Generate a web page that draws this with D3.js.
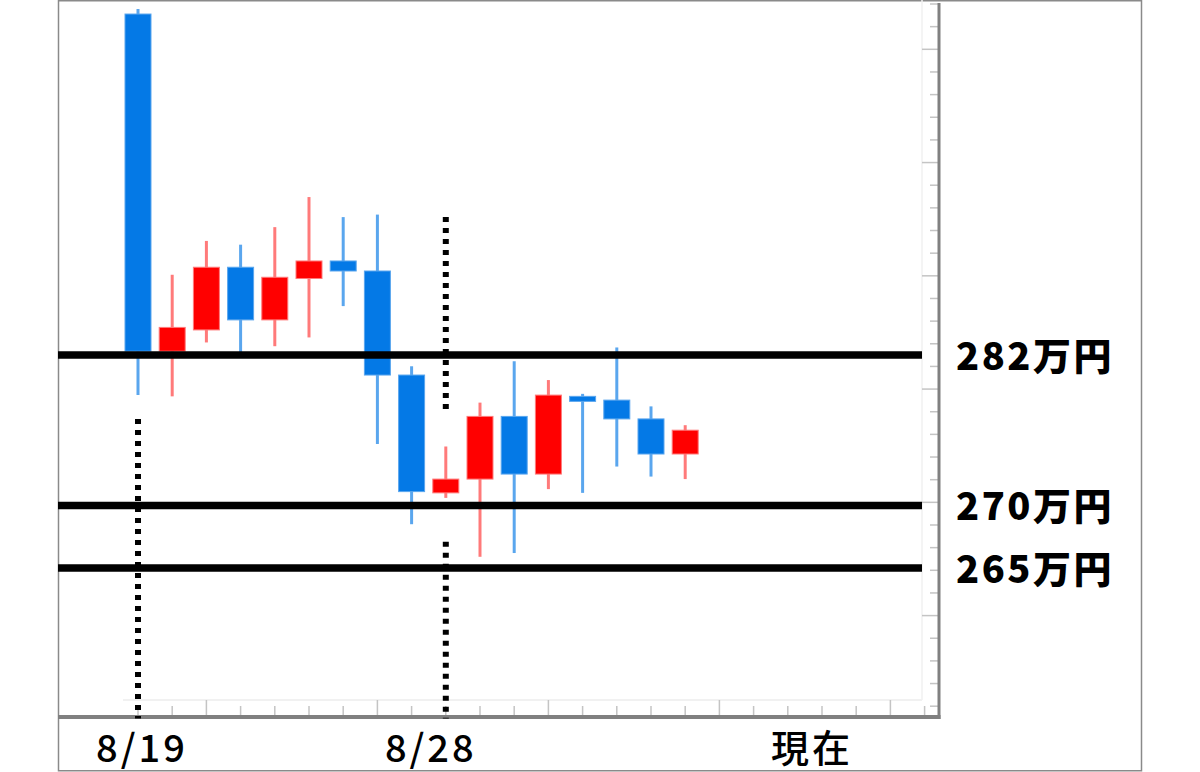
<!DOCTYPE html>
<html>
<head>
<meta charset="utf-8">
<script src="https://cdn.jsdelivr.net/npm/d3@7"></script>
<style>
    body { margin: 0; background: #fff; }
    text { font-family: "Noto Sans CJK JP", "Noto Sans", sans-serif; }
</style>
</head>
<body>
<div id="wrapper"></div>
<script>
// ローソク足 (万円) 8/19 から
const candleOpen  = [309.2, 282.3, 284.0, 289.0, 284.8, 288.1, 289.5, 288.7, 280.4, 271.0, 272.1, 277.1, 272.5, 278.7, 278.4, 276.9, 274.1]
const candleHigh  = [309.6, 288.4, 291.1, 290.8, 292.2, 294.6, 293.0, 293.2, 281.1, 274.7, 278.2, 281.5, 280.0, 278.9, 282.6, 277.9, 276.4]
const candleLow   = [278.8, 278.7, 283.0, 282.1, 282.7, 283.4, 285.9, 274.9, 268.5, 270.6, 265.9, 266.2, 271.3, 271.0, 273.1, 272.3, 272.1]
const candleClose = [282.3, 284.2, 289.0, 284.8, 288.2, 289.5, 288.7, 280.4, 271.1, 272.1, 277.1, 272.5, 278.8, 278.3, 276.9, 274.1, 276.0]

// 水平線
const levels = [282, 270, 265]
const levelLabels = ['282万円', '270万円', '265万円']

// 縦の点線 (足の位置, 価格の区間)
const markerIndex = [0, 9, 9]
const markerFrom = [276.9, 293.0, 267.1]
const markerTo = [253, 277.5, 253]

// 横軸ラベル
const xLabels = ['8/19', '8/28', '現在']
const xLabelIndex = [0, 9, 20]

const tickCount = 24
const yTickCount = 32

function drawChart() {

    const upColor = '#ff0000'
    const upWick = '#ff7a7a'
    const downColor = '#0479e6'
    const downWick = '#5aa6ee'
    const axisColor = '#808080'

    const width = 1200
    const height = 772

    let dims = {
        left: 58,
        plotRight: 922,
        axisRight: 939,
        plotBottom: 700,
        axisBottom: 717,
        frameRight: 1141,
        frameBottom: 770,
    }

    const svg = d3.select('#wrapper')
        .append('svg')
        .attr('width', width)
        .attr('height', height)

    svg.append('rect')
        .attr('width', width).attr('height', height)
        .attr('fill', '#fff')

    // scales
    const x = d3.scaleLinear()
        .domain([0, tickCount - 1])
        .range([138, 924.6])

    const y = d3.scaleLinear()
        .domain([253, 310.2])
        .range([dims.axisBottom + 1.5, 1.5])

    const yTick = d3.scaleLinear()
        .domain([0, yTickCount - 1])
        .range([4, 706.2])

    // frame
    svg.append('rect')
        .attr('x', dims.left + 0.5).attr('y', 0.75)
        .attr('width', dims.frameRight - dims.left).attr('height', dims.frameBottom)
        .attr('fill', 'none')
        .attr('stroke', '#8a8a8a')
        .attr('stroke-width', 1.5)

    // faint inner grid border
    svg.append('line')
        .attr('x1', 123).attr('x2', dims.plotRight)
        .attr('y1', dims.plotBottom).attr('y2', dims.plotBottom)
        .attr('stroke', '#ececec').attr('stroke-width', 1.5)
    svg.append('line')
        .attr('x1', dims.plotRight).attr('x2', dims.plotRight)
        .attr('y1', 0).attr('y2', dims.plotBottom)
        .attr('stroke', '#f0f0f0').attr('stroke-width', 1.5)

    // x ticks
    svg.selectAll('.x-tick')
        .data(d3.range(tickCount))
        .enter().append('line')
        .attr('class', 'x-tick')
        .attr('x1', d => x(d)).attr('x2', d => x(d))
        .attr('y1', d => d % 5 == 2 ? dims.plotBottom : 706)
        .attr('y2', dims.axisBottom)
        .attr('stroke', '#c4c4c4')
        .attr('stroke-width', 1.5)

    // y ticks
    svg.selectAll('.y-tick')
        .data(d3.range(yTickCount))
        .enter().append('line')
        .attr('class', 'y-tick')
        .attr('x1', d => d % 5 == 2 ? dims.plotRight : 930)
        .attr('x2', dims.axisRight)
        .attr('y1', d => yTick(d)).attr('y2', d => yTick(d))
        .attr('stroke', '#c4c4c4')
        .attr('stroke-width', 1.5)

    // axis lines
    svg.append('line')
        .attr('x1', dims.left).attr('x2', dims.axisRight + 1.5)
        .attr('y1', dims.axisBottom).attr('y2', dims.axisBottom)
        .attr('stroke', axisColor).attr('stroke-width', 4)
    svg.append('line')
        .attr('x1', dims.axisRight).attr('x2', dims.axisRight)
        .attr('y1', 3).attr('y2', dims.axisBottom + 2)
        .attr('stroke', axisColor).attr('stroke-width', 3)

    // candles
    const candles = d3.range(candleOpen.length).map(i => ({
        i: i,
        open: candleOpen[i],
        high: candleHigh[i],
        low: candleLow[i],
        close: candleClose[i],
        up: candleClose[i] >= candleOpen[i]
    }))

    const candleWidth = 26

    svg.selectAll('.wick')
        .data(candles)
        .enter().append('line')
        .attr('class', 'wick')
        .attr('x1', d => x(d.i)).attr('x2', d => x(d.i))
        .attr('y1', d => y(d.high)).attr('y2', d => y(d.low))
        .attr('stroke', d => d.up ? upWick : downWick)
        .attr('stroke-width', 3)

    svg.selectAll('.body')
        .data(candles)
        .enter().append('rect')
        .attr('class', 'body')
        .attr('x', d => x(d.i) - candleWidth / 2)
        .attr('width', candleWidth)
        .attr('y', d => y(Math.max(d.open, d.close)))
        .attr('height', d => Math.max(2, Math.abs(y(d.open) - y(d.close))))
        .attr('fill', d => d.up ? upColor : downColor)
        .attr('stroke', d => d.up ? upWick : downWick)
        .attr('stroke-width', 1)

    // horizontal levels
    svg.selectAll('.level')
        .data(levels)
        .enter().append('line')
        .attr('class', 'level')
        .attr('x1', dims.left).attr('x2', dims.plotRight)
        .attr('y1', d => y(d)).attr('y2', d => y(d))
        .attr('stroke', '#000')
        .attr('stroke-width', 7.5)

    svg.selectAll('.level-label')
        .data(levels)
        .enter().append('text')
        .attr('class', 'level-label')
        .attr('x', 956)
        .attr('y', d => y(d) + 15)
        .attr('font-size', 38)
        .attr('font-weight', 900)
        .attr('letter-spacing', 2.5)
        .attr('fill', '#000')
        .text((d, i) => levelLabels[i])

    // dotted markers
    svg.selectAll('.marker')
        .data(markerIndex)
        .enter().append('line')
        .attr('class', 'marker')
        .attr('x1', d => x(d)).attr('x2', d => x(d))
        .attr('y1', (d, i) => y(markerFrom[i]))
        .attr('y2', (d, i) => y(markerTo[i]))
        .attr('stroke', '#000')
        .attr('stroke-width', 6)
        .attr('stroke-dasharray', '5,6')

    // x labels
    const labelShift = [4, -15, -10]
    svg.selectAll('.x-label')
        .data(xLabels)
        .enter().append('text')
        .attr('class', 'x-label')
        .attr('x', (d, i) => x(xLabelIndex[i]) + labelShift[i])
        .attr('y', 762)
        .attr('text-anchor', 'middle')
        .attr('font-size', 38)
        .attr('font-weight', 500)
        .attr('letter-spacing', 3)
        .attr('fill', '#000')
        .text(d => d)
}

drawChart()
</script>
</body>
</html>
